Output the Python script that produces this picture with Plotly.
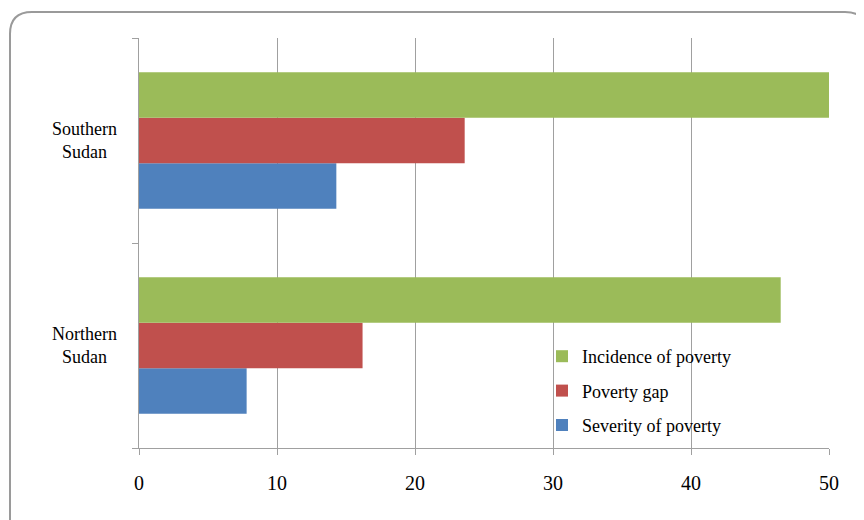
import plotly.graph_objects as go

regions = ["Northern Sudan", "Southern Sudan"]
region_labels = ["Northern<br>Sudan", "Southern<br>Sudan"]
severity = [7.8, 14.3]
poverty_gap = [16.2, 23.6]
incidence = [46.5, 50.1]
x_ticks = [0, 10, 20, 30, 40, 50]

W, H = 864, 520
OFF = 8  # page body offset in screenshot
# target plot area in screenshot pixels
SL, SR, ST, SB = 139, 829, 38, 448
L, T = SL - OFF, ST - OFF
R = W - (SR - OFF)
B = H - (SB - OFF)
pw, ph = W - L - R, H - T - B

def px(x):
    return (x - OFF - L) / pw

def py(y):
    return (H - B - (y - OFF)) / ph

fig = go.Figure()
fig.add_trace(go.Bar(y=regions, x=severity, orientation="h", name="Severity of poverty",
                     legendgroup="c", legendrank=3, marker=dict(color="#4F81BD", line=dict(width=0))))
fig.add_trace(go.Bar(y=regions, x=poverty_gap, orientation="h", name="Poverty gap",
                     legendgroup="b", legendrank=2, marker=dict(color="#C0504D", line=dict(width=0))))
fig.add_trace(go.Bar(y=regions, x=incidence, orientation="h", name="Incidence of poverty",
                     legendgroup="a", legendrank=1, marker=dict(color="#9BBB59", line=dict(width=0))))

serif = "Liberation Serif, Times New Roman, serif"

# rounded frame
x0, y0, x1, y1, r = 10, 12, 867, 620, 22
path = (f"M {px(x0)},{py(y0 + r)} Q {px(x0)},{py(y0)} {px(x0 + r)},{py(y0)} "
        f"L {px(x1 - r)},{py(y0)} Q {px(x1)},{py(y0)} {px(x1)},{py(y0 + r)} "
        f"L {px(x1)},{py(y1 - r)} L {px(x0)},{py(y1 - r)} Z")
shapes = [dict(type="path", xref="paper", yref="paper", path=path,
               line=dict(color="#9A9A9A", width=2), fillcolor="rgba(0,0,0,0)", layer="below")]

annotations = [dict(x=px(84), y=reg, xref="paper", yref="y", text=lab, showarrow=False,
                    align="center", xanchor="center", yanchor="middle",
                    font=dict(family=serif, size=18, color="#000"))
               for reg, lab in zip(regions, region_labels)]

fig.update_layout(
    width=W, height=H,
    margin=dict(l=L, r=R, t=T, b=B),
    paper_bgcolor="white", plot_bgcolor="white",
    barmode="group", bargap=0.335, bargroupgap=0,
    showlegend=True,
    legend=dict(x=px(542), y=py(338), xanchor="left", yanchor="top",
                traceorder="grouped", bgcolor="rgba(0,0,0,0)",
                font=dict(family=serif, size=18, color="#000"),
                itemwidth=30, tracegroupgap=8),
    shapes=shapes,
    annotations=annotations,
    xaxis=dict(range=[0, 50], tickvals=x_ticks, showgrid=True, gridcolor="#A0A0A0", gridwidth=1,
               showline=True, linecolor="#A0A0A0", linewidth=1, ticks="outside", ticklen=6,
               tickcolor="#A0A0A0", zeroline=False, ticklabelstandoff=11,
               tickfont=dict(family=serif, size=20, color="#000")),
    yaxis=dict(showline=True, linecolor="#A0A0A0", linewidth=1, ticks="outside", ticklen=6,
               tickcolor="#A0A0A0", tickson="boundaries", showticklabels=False,
               showgrid=False, zeroline=False),
)

fig.write_html("out.html")
